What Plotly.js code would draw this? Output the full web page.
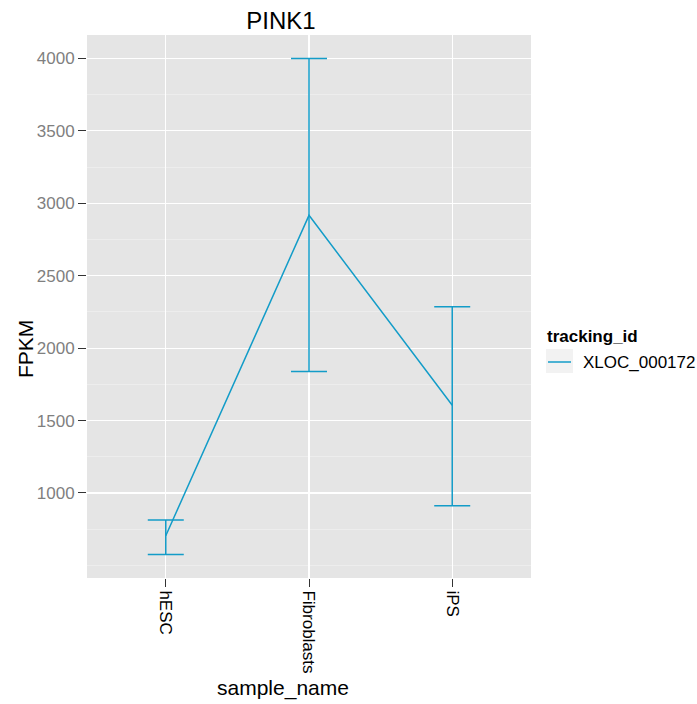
<!DOCTYPE html>
<html>
<head>
<meta charset="utf-8">
<script src="https://cdn.plot.ly/plotly-3.0.1.min.js"></script>
<style>
  html, body { margin: 0; padding: 0; background: #ffffff; }
  #chart { width: 697px; height: 704px; }
</style>
</head>
<body>
<div id="chart"></div>
<script>
// PINK1 expression per sample, with confidence interval bounds
const samples = ['hESC', 'Fibroblasts', 'iPS'];
const fpkm = [705, 2917, 1606];
const confHi = [813, 4000, 2286];
const confLo = [576, 1839, 912];
const trackingId = 'XLOC_000172';

const yTicks = [1000, 1500, 2000, 2500, 3000, 3500, 4000];
const yMinor = [500, 750, 1250, 1750, 2250, 2750, 3250, 3750];

const lineColor = '#139CC8';
const font = 'Liberation Sans, Arial, Helvetica, sans-serif';

// panel geometry in pixels, used to place the legend and axis titles
const W = 697, H = 704;
const M = { l: 87, r: 166, t: 35, b: 126 };
const pw = W - M.l - M.r, ph = H - M.t - M.b;
const px = x => (x - M.l) / pw;
const py = y => 1 - (y - M.t) / ph;

const trace = {
  type: 'scatter',
  mode: 'lines',
  x: samples,
  y: fpkm,
  name: trackingId,
  line: { color: lineColor, width: 1.5 },
  error_y: {
    type: 'data',
    symmetric: false,
    array: fpkm.map((v, i) => confHi[i] - v),
    arrayminus: fpkm.map((v, i) => v - confLo[i]),
    color: lineColor,
    thickness: 1.5,
    width: 18
  },
  showlegend: false
};

const layout = {
  width: W,
  height: H,
  margin: M,
  paper_bgcolor: '#ffffff',
  plot_bgcolor: '#E5E5E5',
  font: { family: font, color: '#000000' },
  showlegend: false,
  title: {
    text: 'PINK1',
    font: { family: font, size: 24, color: '#000000' },
    x: 281 / W, xref: 'container', xanchor: 'center',
    y: 1 - 21 / H, yref: 'container', yanchor: 'middle'
  },
  xaxis: {
    type: 'category',
    range: [-0.55, 2.55],
    tickangle: 90,
    ticks: 'outside', ticklen: 8, tickwidth: 1, tickcolor: '#333333',
    tickfont: { family: font, size: 17, color: '#000000' },
    showgrid: true, gridcolor: '#FFFFFF', gridwidth: 1.2,
    zeroline: false, showline: false
  },
  yaxis: {
    range: [413, 4162],
    tickvals: yTicks,
    ticktext: yTicks.map(String),
    ticks: 'outside', ticklen: 8, tickwidth: 1, tickcolor: '#333333',
    tickfont: { family: font, size: 17, color: '#7F7F7F' },
    showgrid: true, gridcolor: '#FFFFFF', gridwidth: 1.2,
    minor: { tickvals: yMinor, showgrid: true, gridcolor: '#F2F2F2', gridwidth: 0.6, ticks: '' },
    zeroline: false, showline: false
  },
  annotations: [
    // axis titles
    { text: 'sample_name', xref: 'paper', yref: 'paper', x: px(283), y: py(688),
      xanchor: 'center', yanchor: 'middle', showarrow: false,
      font: { family: font, size: 21, color: '#000000' } },
    { text: 'FPKM', xref: 'paper', yref: 'paper', x: px(25), y: py(349),
      xanchor: 'center', yanchor: 'middle', showarrow: false, textangle: -90,
      font: { family: font, size: 21, color: '#000000' } },
    // legend
    { text: '<b>tracking_id</b>', xref: 'paper', yref: 'paper', x: px(545), y: py(336),
      xanchor: 'left', yanchor: 'middle', showarrow: false,
      font: { family: font, size: 17, color: '#000000' } },
    { text: trackingId, xref: 'paper', yref: 'paper', x: px(581), y: py(362),
      xanchor: 'left', yanchor: 'middle', showarrow: false,
      font: { family: font, size: 17, color: '#000000' } }
  ],
  shapes: [
    { type: 'rect', xref: 'paper', yref: 'paper',
      x0: px(546), x1: px(573), y0: py(373), y1: py(349),
      fillcolor: '#F2F2F2', line: { width: 0 }, layer: 'above' },
    { type: 'line', xref: 'paper', yref: 'paper',
      x0: px(548), x1: px(571), y0: py(362), y1: py(362),
      line: { color: lineColor, width: 1.5 }, layer: 'above' }
  ]
};

Plotly.newPlot('chart', [trace], layout, { displayModeBar: false, staticPlot: true });
</script>
</body>
</html>
